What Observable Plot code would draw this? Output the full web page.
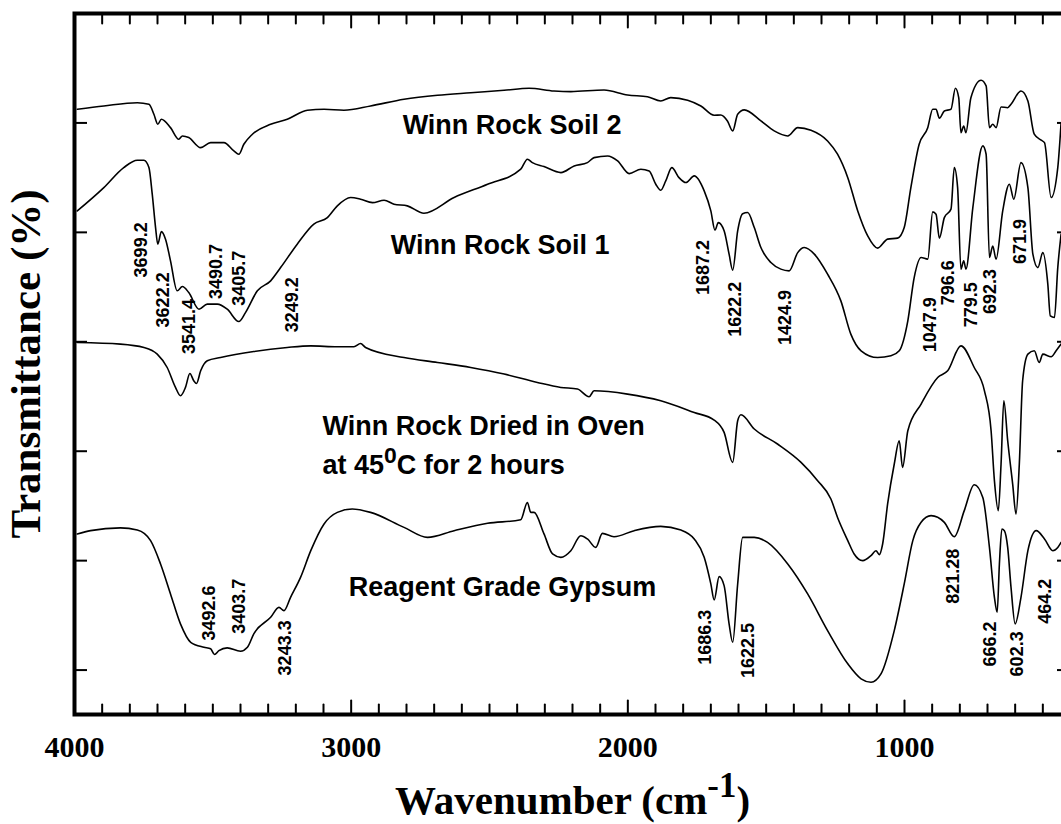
<!DOCTYPE html>
<html>
<head>
<meta charset="utf-8">
<script src="https://cdn.jsdelivr.net/npm/d3@7"></script>
<script src="https://cdn.jsdelivr.net/npm/@observablehq/plot@0.6"></script>
<style>
html, body { margin: 0; padding: 0; background: #fff; overflow: hidden; }
</style>
</head>
<body>
<div id="chart"></div>
<script>
// ---- Data: [wavenumber (cm-1), transmittance (offset, arb. %)] ----
const soil2 = [
[3990,61.25],[3894,61.55],[3773,61.85],[3731,61.71],[3713,60.79],[3699,59.88],[3686,60.34],[3653,59.57],[3623,58.51],[3610,58.81],[3587,58.66],[3544,57.74],[3508,58.2],[3460,58.2],[3424,57.44],[3406,57.14],[3388,58.05],[3357,58.97],[3291,59.88],[3231,60.34],[3158,61.16],[3098,61.25],[3026,61.16],[2930,61.55],[2809,62.16],[2688,62.53],[2568,62.76],[2447,62.98],[2357,63.17],[2267,62.92],[2206,62.86],[2086,63.01],[2001,62.55],[1929,62.4],[1881,62.01],[1845,62.31],[1784,62.07],[1736,61.55],[1688,60.7],[1664,60.73],[1640,60.18],[1621,59.27],[1603,60.79],[1579,61.19],[1519,60.18],[1471,59.27],[1422,58.81],[1386,59.57],[1338,59.33],[1278,58.35],[1242,57.14],[1205,55.0],[1169,51.96],[1133,49.68],[1097,48.56],[1061,49.38],[1025,49.47],[1001,50.44],[977,54.09],[947,58.05],[916,59.57],[898,61.25],[886,61.25],[874,60.43],[856,61.09],[832,61.25],[816,63.17],[804,62.31],[796,59.11],[786,59.72],[778,59.11],[760,62.31],[723,63.9],[705,63.38],[693,59.57],[681,59.88],[669,59.57],[651,61.46],[627,61.39],[615,61.71],[579,62.92],[554,62.01],[531,58.97],[506,58.42],[494,58.2],[470,53.18],[446,55.92],[434,60.02]
];
const soil1 = [
[3990,51.96],[3894,54.09],[3822,55.92],[3773,56.59],[3749,56.59],[3731,55.92],[3719,53.49],[3707,50.44],[3699,48.92],[3686,50.07],[3671,49.38],[3653,47.4],[3629,44.66],[3610,45.05],[3587,44.5],[3550,42.98],[3520,43.44],[3484,43.44],[3448,42.98],[3406,41.85],[3382,42.67],[3339,44.66],[3291,45.57],[3255,46.78],[3195,48.92],[3135,50.75],[3086,51.35],[3050,52.42],[3002,53.18],[2966,53.03],[2923,52.72],[2881,52.94],[2845,52.57],[2797,52.42],[2737,51.75],[2628,53.18],[2507,54.4],[2387,55.77],[2363,56.68],[2345,56.37],[2303,56.01],[2242,55.46],[2194,56.07],[2146,56.37],[2122,56.83],[2073,56.98],[2037,56.53],[1995,55.37],[1953,55.77],[1923,55.61],[1899,54.4],[1881,53.85],[1863,54.7],[1841,55.92],[1815,55.0],[1790,54.55],[1760,55.16],[1724,53.79],[1700,51.96],[1685,50.2],[1673,50.89],[1652,50.14],[1634,48.01],[1621,46.55],[1603,50.14],[1585,51.71],[1567,51.81],[1543,50.44],[1519,48.61],[1483,47.24],[1447,46.64],[1417,46.48],[1386,48.15],[1362,48.61],[1326,48.01],[1278,46.18],[1230,43.74],[1194,40.7],[1157,39.18],[1097,38.56],[1049,38.72],[1019,39.18],[988,41.92],[965,45.87],[940,47.7],[916,47.55],[898,51.87],[886,51.66],[874,49.47],[856,51.35],[832,52.12],[820,55.92],[808,54.09],[796,46.64],[786,47.4],[778,46.64],[753,52.26],[717,57.9],[705,57.14],[693,47.7],[681,48.76],[669,47.55],[645,51.96],[621,54.4],[605,53.03],[579,56.37],[554,54.09],[536,48.01],[518,46.78],[500,48.15],[482,45.27],[473,42.37],[458,42.22],[446,46.78],[434,49.83]
];
const oven = [
[3990,39.93],[3834,39.79],[3749,39.48],[3701,38.87],[3665,37.65],[3635,35.83],[3617,35.07],[3599,35.83],[3583,37.1],[3569,36.44],[3559,36.19],[3544,37.35],[3520,38.26],[3472,38.56],[3352,39.11],[3231,39.48],[3146,39.63],[3050,39.54],[2990,39.54],[2966,39.84],[2948,39.48],[2809,38.56],[2688,38.11],[2568,37.65],[2447,37.05],[2327,36.28],[2242,35.83],[2182,35.68],[2140,34.98],[2122,35.52],[2001,35.22],[1881,34.61],[1760,33.54],[1688,32.85],[1652,31.72],[1621,28.98],[1603,32.78],[1591,33.33],[1543,32.03],[1459,30.66],[1374,28.98],[1314,27.31],[1266,25.63],[1242,23.95],[1205,21.83],[1182,20.61],[1151,20.0],[1121,20.46],[1103,20.91],[1091,20.55],[1079,21.52],[1061,25.18],[1037,28.83],[1019,30.96],[1007,28.52],[988,31.87],[940,34.31],[880,36.74],[844,37.35],[796,39.63],[748,37.65],[711,35.52],[687,31.87],[675,27.31],[661,24.57],[651,28.83],[641,34.61],[627,30.96],[609,27.0],[597,24.26],[585,28.83],[573,36.44],[554,38.87],[531,39.18],[513,38.11],[500,38.87],[470,38.63],[452,39.18],[434,39.79]
];
const gypsum = [
[3990,22.44],[3942,22.74],[3834,22.99],[3773,22.8],[3725,21.83],[3689,19.7],[3653,16.96],[3617,14.22],[3580,12.54],[3532,12.08],[3508,11.94],[3494,11.42],[3478,11.78],[3448,12.03],[3400,11.72],[3375,12.08],[3352,13.31],[3291,14.82],[3261,15.73],[3243,15.43],[3219,16.65],[3183,18.47],[3146,20.91],[3098,23.35],[3050,24.41],[2996,24.72],[2930,24.41],[2809,23.04],[2724,22.13],[2628,22.74],[2507,23.41],[2387,23.74],[2363,25.32],[2351,24.41],[2339,24.41],[2303,22.44],[2272,20.61],[2242,20.3],[2206,20.91],[2170,22.28],[2146,21.98],[2116,21.21],[2092,22.49],[2050,22.19],[1977,22.74],[1881,23.13],[1808,22.8],[1760,21.98],[1724,20.3],[1700,17.87],[1688,16.41],[1670,18.54],[1652,17.72],[1634,14.22],[1621,12.54],[1603,17.87],[1585,22.13],[1543,22.13],[1495,21.67],[1422,19.7],[1350,16.96],[1278,13.61],[1205,10.57],[1157,9.2],[1121,8.89],[1085,9.65],[1037,13.61],[1001,17.87],[970,21.83],[940,23.5],[904,24.11],[856,23.5],[820,22.19],[784,24.57],[748,26.94],[717,25.78],[693,21.21],[675,16.65],[665,15.28],[657,19.7],[648,22.89],[639,22.74],[627,21.21],[615,17.56],[600,14.22],[579,16.65],[554,20.91],[524,22.74],[494,21.98],[464,20.91],[446,21.21],[434,21.67]
];

const seriesNames = ["Winn Rock Soil 2", "Winn Rock Soil 1", "Winn Rock Dried in Oven", "Reagent Grade Gypsum"];
const seriesData = [soil2, soil1, oven, gypsum];

// Curve captions
const captionText = ["Winn Rock Soil 2", "Winn Rock Soil 1", "Winn Rock Dried in Oven", "at 45^{0}C for 2 hours", "Reagent Grade Gypsum"];
const captionWn = [2814, 2857, 3104, 3104, 3009];
const captionT = [59.78, 48.82, 32.29, 28.73, 17.59];

// Peak annotations
const peakText = ["3699.2","3622.2","3541.4","3490.7","3405.7","3249.2","1687.2","1622.2","1424.9","1047.9","796.6","779.5","692.3","671.9",
                  "3492.6","3403.7","3243.3","1686.3","1622.5","821.28","666.2","602.3","464.2"];
const peakWn = [3759,3678,3584,3488,3403,3213,1728,1613,1432,908,842,757,691,583,
                3512,3403,3240,1721,1565,823,691,594,492];
const peakT = [48.4,43.83,41.4,46.42,45.8,43.38,46.78,42.98,42.22,41.55,45.39,43.38,44.59,49.16,
               15.22,15.83,12.03,13.0,11.78,18.57,12.39,11.48,16.28];

// Axis ticks
const xMajor = [4000, 3000, 2000, 1000];
const xMinor = [3900,3800,3700,3600,3500,3400,3300,3200,3100,2900,2800,2700,2600,2500,2400,2300,2200,2100,
                1900,1800,1700,1600,1500,1400,1300,1200,1100,900,800,700,600,500];
const yTicks = [10, 20, 30, 40, 50, 60];
const xTickLabels = ["4000", "3000", "2000", "1000"];
const xDomain = [4000, 400];
const yDomain = [5.94, 70];

// ---- Build tables ----
const rows = seriesData.flatMap((pts, k) => pts.map(([wn, t]) => ({name: seriesNames[k], wn, t})));
const captions = captionText.map((text, i) => ({text, wn: captionWn[i], t: captionT[i]}));
const peaks = peakText.map((text, i) => ({text, wn: peakWn[i], t: peakT[i]}));

const serif = "'Liberation Serif', 'Times New Roman', serif";
const sans = "'Liberation Sans', Arial, sans-serif";

const W = 1072, H = 824, ML = 74, MR = 2, MT = 13, MB = 110;
const frameW = W - ML - MR, frameH = H - MT - MB;
const unitPerPx = (yDomain[1] - yDomain[0]) / frameH;
const [yLo, yHi] = yDomain;

// inward x tick segments (bottom and top frame edges)
const xTickSegs = [];
[[xMajor, 14], [xMinor, 10]].forEach(([list, len]) => list.forEach(v => {
  xTickSegs.push({id: "b" + v, wn: v, t: yLo}, {id: "b" + v, wn: v, t: yLo + len * unitPerPx});
  xTickSegs.push({id: "t" + v, wn: v, t: yHi}, {id: "t" + v, wn: v, t: yHi - len * unitPerPx});
}));

const chart = Plot.plot({
  width: W,
  height: H,
  marginLeft: ML,
  marginRight: MR,
  marginTop: MT,
  marginBottom: MB,
  style: {background: "white", overflow: "visible", maxWidth: "none"},
  x: {domain: xDomain, axis: null},
  y: {domain: yDomain, axis: null},
  marks: [
    Plot.line(rows, {x: "wn", y: "t", z: "name", stroke: "black", strokeWidth: 1.6, curve: "monotone-x"}),
    Plot.line(xTickSegs, {x: "wn", y: "t", z: "id", stroke: "black", strokeWidth: 2}),
    Plot.tickY(yTicks, {y: d => d, insetRight: frameW - 13, stroke: "black", strokeWidth: 2}),
    Plot.tickY(yTicks, {y: d => d, insetLeft: frameW - 13, stroke: "black", strokeWidth: 2}),
    Plot.frame({stroke: "black", strokeWidth: 4}),
    // tick labels
    Plot.text(xMajor, {x: d => d, text: (d, i) => xTickLabels[i], frameAnchor: "bottom", dy: 33,
      textAnchor: "middle", lineAnchor: "middle",
      fontFamily: serif, fontWeight: "bold", fontSize: 30, fill: "black"}),
    // axis titles
    Plot.text(["Wavenumber (cm^{-1})"], {text: d => d, frameAnchor: "bottom", dy: 86,
      textAnchor: "middle", lineAnchor: "middle",
      fontFamily: serif, fontWeight: "bold", fontSize: 41, fill: "black"}),
    Plot.text(["Transmittance (%)"], {text: d => d, frameAnchor: "left", dx: -48, rotate: -90,
      textAnchor: "middle", lineAnchor: "middle",
      fontFamily: serif, fontWeight: "bold", fontSize: 43, fill: "black"}),
    // captions
    Plot.text(captions, {x: "wn", y: "t", text: "text", textAnchor: "start", lineAnchor: "middle",
      fontFamily: sans, fontWeight: "bold", fontSize: 27, fill: "black"}),
    // peak labels
    Plot.text(peaks, {x: "wn", y: "t", text: "text", rotate: -90, textAnchor: "middle", lineAnchor: "middle",
      fontFamily: sans, fontWeight: "bold", fontSize: 18, fill: "black"})
  ]
});

document.getElementById("chart").appendChild(chart);

// superscripts: "^{...}" -> raised tspan
const NS = "http://www.w3.org/2000/svg";
chart.querySelectorAll("text").forEach(t => {
  const s = t.textContent;
  const m = s.match(/^(.*)\^\{([^}]*)\}(.*)$/);
  if (!m) return;
  const fs = parseFloat(getComputedStyle(t).fontSize) || 20;
  const raise = 0.4 * fs;
  while (t.firstChild) t.removeChild(t.firstChild);
  const a = document.createElementNS(NS, "tspan"); a.textContent = m[1];
  const b = document.createElementNS(NS, "tspan"); b.textContent = m[2];
  b.setAttribute("dy", -raise); b.setAttribute("font-size", 0.85 * fs);
  const c = document.createElementNS(NS, "tspan"); c.textContent = m[3];
  c.setAttribute("dy", raise);
  t.append(a, b, c);
});
</script>
</body>
</html>
